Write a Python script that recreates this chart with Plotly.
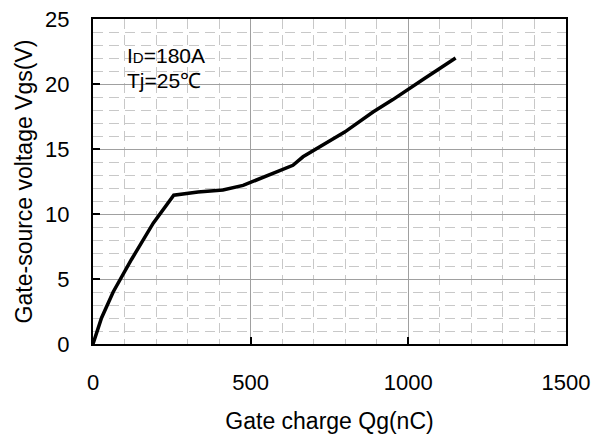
import plotly.graph_objects as go

# Data
qg_nc = [0, 27, 64, 122, 191, 256, 333, 412, 476, 539, 634, 666, 698, 798, 888, 951, 1050, 1150]
vgs_v = [0, 2.0, 4.0, 6.5, 9.3, 11.45, 11.7, 11.85, 12.2, 12.8, 13.75, 14.4, 14.85, 16.3, 17.85, 18.8, 20.4, 22.0]

x_ticks = [0, 500, 1000, 1500]
y_ticks = [0, 5, 10, 15, 20, 25]

x_title = "Gate charge Qg(nC)"
y_title = "Gate-source voltage Vgs(V)"
note_line1 = 'I<span style="font-size:15px">D</span>=180A'
note_line2 = "Tj=25℃"

FONT = "Liberation Sans, Arial, sans-serif"

fig = go.Figure()
fig.add_trace(go.Scatter(
    x=qg_nc, y=vgs_v, mode="lines",
    line=dict(color="black", width=3.5),
    showlegend=False, hoverinfo="skip",
))

axis_common = dict(
    showline=True, linecolor="black", linewidth=2, mirror=True,
    ticks="inside", ticklen=7, tickcolor="black", tickwidth=1.5,
    showgrid=True, gridcolor="#a0a0a0", gridwidth=1,
    zeroline=False, automargin=False,
    tickfont=dict(family=FONT, size=22, color="black"),
)

fig.update_xaxes(
    **axis_common,
    range=[0, 1500], tickvals=x_ticks, ticktext=[str(v) for v in x_ticks],
    ticklabelstandoff=18,
    minor=dict(dtick=100, showgrid=True, gridcolor="#c8c8c8", griddash="10px,6px", gridwidth=1, ticks=""),
    title=dict(text=x_title, font=dict(family=FONT, size=23, color="black"), standoff=24),
)
fig.update_yaxes(
    **axis_common,
    range=[0, 25], tickvals=y_ticks, ticktext=[str(v) for v in y_ticks],
    ticklabelstandoff=17,
    minor=dict(dtick=1, showgrid=True, gridcolor="#c8c8c8", griddash="10px,6px", gridwidth=1, ticks=""),
    title=dict(text=y_title, font=dict(family=FONT, size=23, color="black"), standoff=6),
)

fig.add_annotation(x=101, y=22.2, xref="x", yref="y", text=note_line1, showarrow=False,
                   xanchor="left", yanchor="middle", font=dict(family=FONT, size=21, color="black"))
fig.add_annotation(x=101, y=20.3, xref="x", yref="y", text=note_line2, showarrow=False,
                   xanchor="left", yanchor="middle", font=dict(family=FONT, size=21, color="black"))

fig.update_layout(
    width=603, height=434,
    margin=dict(l=93, r=37, t=19, b=90),
    paper_bgcolor="white", plot_bgcolor="white",
)

fig.write_html("out.html")
